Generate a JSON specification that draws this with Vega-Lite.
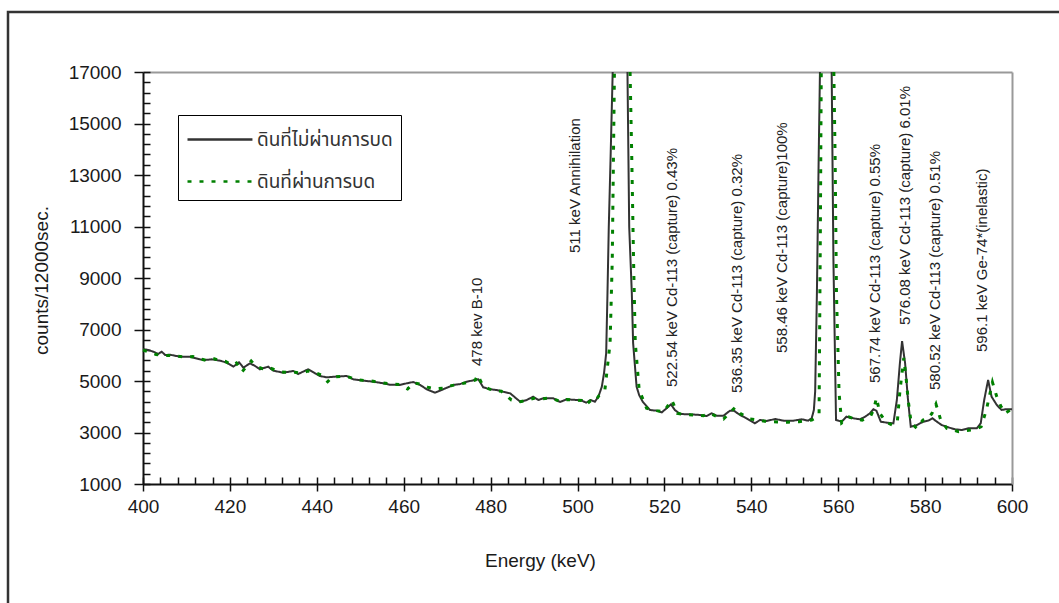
{
  "$schema": "https://vega.github.io/schema/vega-lite/v6.json",
  "width": 1100,
  "height": 650,
  "autosize": {"type": "none"},
  "padding": {"left": 8, "top": 12, "right": 0, "bottom": 0},
  "background": "white",
  "view": {"stroke": "#333333", "strokeWidth": 2.5, "fill": "white"},
  "config": {"font": "Liberation Sans"},
  "datasets": {
    "spectrum": [
      {"series":"ดินที่ไม่ผ่านการบด","segment":1,"energy":400.0,"counts":6243},
      {"series":"ดินที่ไม่ผ่านการบด","segment":1,"energy":401.2,"counts":6204},
      {"series":"ดินที่ไม่ผ่านการบด","segment":1,"energy":402.4,"counts":6138},
      {"series":"ดินที่ไม่ผ่านการบด","segment":1,"energy":403.5,"counts":6049},
      {"series":"ดินที่ไม่ผ่านการบด","segment":1,"energy":404.3,"counts":6138},
      {"series":"ดินที่ไม่ผ่านการบด","segment":1,"energy":405.1,"counts":6010},
      {"series":"ดินที่ไม่ผ่านการบด","segment":1,"energy":406.2,"counts":6021},
      {"series":"ดินที่ไม่ผ่านการบด","segment":1,"energy":408.5,"counts":5944},
      {"series":"ดินที่ไม่ผ่านการบด","segment":1,"energy":410.8,"counts":5944},
      {"series":"ดินที่ไม่ผ่านการบด","segment":1,"energy":413.1,"counts":5842},
      {"series":"ดินที่ไม่ผ่านการบด","segment":1,"energy":414.3,"counts":5815},
      {"series":"ดินที่ไม่ผ่านการบด","segment":1,"energy":415.8,"counts":5842},
      {"series":"ดินที่ไม่ผ่านการบด","segment":1,"energy":417.7,"counts":5790},
      {"series":"ดินที่ไม่ผ่านการบด","segment":1,"energy":419.3,"counts":5712},
      {"series":"ดินที่ไม่ผ่านการบด","segment":1,"energy":420.8,"counts":5557},
      {"series":"ดินที่ไม่ผ่านการบด","segment":1,"energy":422.1,"counts":5727},
      {"series":"ดินที่ไม่ผ่านการบด","segment":1,"energy":423.1,"counts":5518},
      {"series":"ดินที่ไม่ผ่านการบด","segment":1,"energy":424.6,"counts":5686},
      {"series":"ดินที่ไม่ผ่านการบด","segment":1,"energy":425.8,"counts":5583},
      {"series":"ดินที่ไม่ผ่านการบด","segment":1,"energy":426.9,"counts":5454},
      {"series":"ดินที่ไม่ผ่านการบด","segment":1,"energy":428.8,"counts":5557},
      {"series":"ดินที่ไม่ผ่านการบด","segment":1,"energy":430.0,"counts":5400},
      {"series":"ดินที่ไม่ผ่านการบด","segment":1,"energy":432.3,"counts":5322},
      {"series":"ดินที่ไม่ผ่านการบด","segment":1,"energy":434.6,"counts":5388},
      {"series":"ดินที่ไม่ผ่านการบด","segment":1,"energy":435.7,"counts":5272},
      {"series":"ดินที่ไม่ผ่านการบด","segment":1,"energy":438.0,"counts":5454},
      {"series":"ดินที่ไม่ผ่านการบด","segment":1,"energy":439.6,"counts":5299},
      {"series":"ดินที่ไม่ผ่านการบด","segment":1,"energy":440.7,"counts":5194},
      {"series":"ดินที่ไม่ผ่านการบด","segment":1,"energy":442.3,"counts":5143},
      {"series":"ดินที่ไม่ผ่านการบด","segment":1,"energy":444.2,"counts":5168},
      {"series":"ดินที่ไม่ผ่านการบด","segment":1,"energy":446.9,"counts":5194},
      {"series":"ดินที่ไม่ผ่านการบด","segment":1,"energy":448.4,"counts":5066},
      {"series":"ดินที่ไม่ผ่านการบด","segment":1,"energy":450.7,"counts":5012},
      {"series":"ดินที่ไม่ผ่านการบด","segment":1,"energy":453.0,"counts":4973},
      {"series":"ดินที่ไม่ผ่านการบด","segment":1,"energy":455.3,"counts":4910},
      {"series":"ดินที่ไม่ผ่านการบด","segment":1,"energy":456.8,"counts":4857},
      {"series":"ดินที่ไม่ผ่านการบด","segment":1,"energy":459.1,"counts":4845},
      {"series":"ดินที่ไม่ผ่านการบด","segment":1,"energy":460.7,"counts":4910},
      {"series":"ดินที่ไม่ผ่านการบด","segment":1,"energy":462.2,"counts":4961},
      {"series":"ดินที่ไม่ผ่านการบด","segment":1,"energy":463.8,"counts":4845},
      {"series":"ดินที่ไม่ผ่านการบด","segment":1,"energy":465.3,"counts":4678},
      {"series":"ดินที่ไม่ผ่านการบด","segment":1,"energy":467.2,"counts":4546},
      {"series":"ดินที่ไม่ผ่านการบด","segment":1,"energy":469.1,"counts":4678},
      {"series":"ดินที่ไม่ผ่านการบด","segment":1,"energy":471.4,"counts":4845},
      {"series":"ดินที่ไม่ผ่านการบด","segment":1,"energy":473.0,"counts":4883},
      {"series":"ดินที่ไม่ผ่านการบด","segment":1,"energy":474.5,"counts":4973},
      {"series":"ดินที่ไม่ผ่านการบด","segment":1,"energy":476.4,"counts":5039},
      {"series":"ดินที่ไม่ผ่านการบด","segment":1,"energy":477.2,"counts":5066},
      {"series":"ดินที่ไม่ผ่านการบด","segment":1,"energy":478.3,"counts":4755},
      {"series":"ดินที่ไม่ผ่านการบด","segment":1,"energy":479.9,"counts":4678},
      {"series":"ดินที่ไม่ผ่านการบด","segment":1,"energy":481.4,"counts":4650},
      {"series":"ดินที่ไม่ผ่านการบด","segment":1,"energy":482.9,"counts":4580},
      {"series":"ดินที่ไม่ผ่านการบด","segment":1,"energy":484.5,"counts":4522},
      {"series":"ดินที่ไม่ผ่านการบด","segment":1,"energy":486.8,"counts":4196},
      {"series":"ดินที่ไม่ผ่านการบด","segment":1,"energy":488.3,"counts":4262},
      {"series":"ดินที่ไม่ผ่านการบด","segment":1,"energy":489.8,"counts":4390},
      {"series":"ดินที่ไม่ผ่านการบด","segment":1,"energy":491.0,"counts":4262},
      {"series":"ดินที่ไม่ผ่านการบด","segment":1,"energy":492.1,"counts":4328},
      {"series":"ดินที่ไม่ผ่านการบด","segment":1,"energy":494.4,"counts":4328},
      {"series":"ดินที่ไม่ผ่านการบด","segment":1,"energy":496.0,"counts":4184},
      {"series":"ดินที่ไม่ผ่านการบด","segment":1,"energy":497.5,"counts":4289},
      {"series":"ดินที่ไม่ผ่านการบด","segment":1,"energy":499.8,"counts":4262},
      {"series":"ดินที่ไม่ผ่านการบด","segment":1,"energy":501.0,"counts":4236},
      {"series":"ดินที่ไม่ผ่านการบด","segment":1,"energy":502.0,"counts":4158},
      {"series":"ดินที่ไม่ผ่านการบด","segment":1,"energy":503.0,"counts":4262},
      {"series":"ดินที่ไม่ผ่านการบด","segment":1,"energy":504.0,"counts":4196},
      {"series":"ดินที่ไม่ผ่านการบด","segment":1,"energy":504.8,"counts":4390},
      {"series":"ดินที่ไม่ผ่านการบด","segment":1,"energy":505.6,"counts":4779},
      {"series":"ดินที่ไม่ผ่านการบด","segment":1,"energy":506.1,"counts":5299},
      {"series":"ดินที่ไม่ผ่านการบด","segment":1,"energy":506.6,"counts":6076},
      {"series":"ดินที่ไม่ผ่านการบด","segment":1,"energy":506.9,"counts":8417},
      {"series":"ดินที่ไม่ผ่านการบด","segment":1,"energy":507.2,"counts":10992},
      {"series":"ดินที่ไม่ผ่านการบด","segment":1,"energy":507.6,"counts":13582},
      {"series":"ดินที่ไม่ผ่านการบด","segment":1,"energy":508.1,"counts":17000},
      {"series":"ดินที่ไม่ผ่านการบด","segment":2,"energy":511.5,"counts":17000},
      {"series":"ดินที่ไม่ผ่านการบด","segment":2,"energy":511.9,"counts":10992},
      {"series":"ดินที่ไม่ผ่านการบด","segment":2,"energy":512.5,"counts":8417},
      {"series":"ดินที่ไม่ผ่านการบด","segment":2,"energy":512.8,"counts":6476},
      {"series":"ดินที่ไม่ผ่านการบด","segment":2,"energy":513.6,"counts":4779},
      {"series":"ดินที่ไม่ผ่านการบด","segment":2,"energy":514.2,"counts":4450},
      {"series":"ดินที่ไม่ผ่านการบด","segment":2,"energy":515.0,"counts":4200},
      {"series":"ดินที่ไม่ผ่านการบด","segment":2,"energy":516.7,"counts":3874},
      {"series":"ดินที่ไม่ผ่านการบด","segment":2,"energy":518.2,"counts":3847},
      {"series":"ดินที่ไม่ผ่านการบด","segment":2,"energy":519.4,"counts":3783},
      {"series":"ดินที่ไม่ผ่านการบด","segment":2,"energy":520.5,"counts":3939},
      {"series":"ดินที่ไม่ผ่านการบด","segment":2,"energy":521.5,"counts":4094},
      {"series":"ดินที่ไม่ผ่านการบด","segment":2,"energy":522.4,"counts":3874},
      {"series":"ดินที่ไม่ผ่านการบด","segment":2,"energy":523.6,"counts":3718},
      {"series":"ดินที่ไม่ผ่านการบด","segment":2,"energy":525.9,"counts":3706},
      {"series":"ดินที่ไม่ผ่านการบด","segment":2,"energy":528.2,"counts":3680},
      {"series":"ดินที่ไม่ผ่านการบด","segment":2,"energy":529.7,"counts":3641},
      {"series":"ดินที่ไม่ผ่านการบด","segment":2,"energy":530.9,"counts":3745},
      {"series":"ดินที่ไม่ผ่านการบด","segment":2,"energy":532.0,"counts":3654},
      {"series":"ดินที่ไม่ผ่านการบด","segment":2,"energy":533.6,"counts":3654},
      {"series":"ดินที่ไม่ผ่านการบด","segment":2,"energy":535.1,"counts":3847},
      {"series":"ดินที่ไม่ผ่านการบด","segment":2,"energy":536.0,"counts":3847},
      {"series":"ดินที่ไม่ผ่านการบด","segment":2,"energy":537.4,"counts":3680},
      {"series":"ดินที่ไม่ผ่านการบด","segment":2,"energy":538.9,"counts":3551},
      {"series":"ดินที่ไม่ผ่านการบด","segment":2,"energy":540.8,"counts":3357},
      {"series":"ดินที่ไม่ผ่านการบด","segment":2,"energy":542.0,"counts":3485},
      {"series":"ดินที่ไม่ผ่านการบด","segment":2,"energy":543.5,"counts":3447},
      {"series":"ดินที่ไม่ผ่านการบด","segment":2,"energy":545.5,"counts":3524},
      {"series":"ดินที่ไม่ผ่านการบด","segment":2,"energy":547.4,"counts":3460},
      {"series":"ดินที่ไม่ผ่านการบด","segment":2,"energy":549.7,"counts":3460},
      {"series":"ดินที่ไม่ผ่านการบด","segment":2,"energy":551.6,"counts":3512},
      {"series":"ดินที่ไม่ผ่านการบด","segment":2,"energy":553.1,"counts":3460},
      {"series":"ดินที่ไม่ผ่านการบด","segment":2,"energy":553.9,"counts":3551},
      {"series":"ดินที่ไม่ผ่านการบด","segment":2,"energy":554.4,"counts":3874},
      {"series":"ดินที่ไม่ผ่านการบด","segment":2,"energy":554.7,"counts":4600},
      {"series":"ดินที่ไม่ผ่านการบด","segment":2,"energy":555.1,"counts":8417},
      {"series":"ดินที่ไม่ผ่านการบด","segment":2,"energy":555.5,"counts":13582},
      {"series":"ดินที่ไม่ผ่านการบด","segment":2,"energy":555.8,"counts":17000},
      {"series":"ดินที่ไม่ผ่านการบด","segment":3,"energy":558.5,"counts":17000},
      {"series":"ดินที่ไม่ผ่านการบด","segment":3,"energy":558.9,"counts":9700},
      {"series":"ดินที่ไม่ผ่านการบด","segment":3,"energy":559.5,"counts":3485},
      {"series":"ดินที่ไม่ผ่านการบด","segment":3,"energy":560.8,"counts":3420},
      {"series":"ดินที่ไม่ผ่านการบด","segment":3,"energy":561.9,"counts":3614},
      {"series":"ดินที่ไม่ผ่านการบด","segment":3,"energy":563.5,"counts":3551},
      {"series":"ดินที่ไม่ผ่านการบด","segment":3,"energy":565.0,"counts":3512},
      {"series":"ดินที่ไม่ผ่านการบด","segment":3,"energy":566.2,"counts":3614},
      {"series":"ดินที่ไม่ผ่านการบด","segment":3,"energy":567.3,"counts":3745},
      {"series":"ดินที่ไม่ผ่านการบด","segment":3,"energy":568.1,"counts":3901},
      {"series":"ดินที่ไม่ผ่านการบด","segment":3,"energy":568.8,"counts":3847},
      {"series":"ดินที่ไม่ผ่านการบด","segment":3,"energy":569.8,"counts":3420},
      {"series":"ดินที่ไม่ผ่านการบด","segment":3,"energy":571.2,"counts":3381},
      {"series":"ดินที่ไม่ผ่านการบด","segment":3,"energy":572.7,"counts":3357},
      {"series":"ดินที่ไม่ผ่านการบด","segment":3,"energy":573.5,"counts":4262},
      {"series":"ดินที่ไม่ผ่านการบด","segment":3,"energy":574.2,"counts":5686},
      {"series":"ดินที่ไม่ผ่านการบด","segment":3,"energy":574.7,"counts":6550},
      {"series":"ดินที่ไม่ผ่านการบด","segment":3,"energy":575.4,"counts":5686},
      {"series":"ดินที่ไม่ผ่านการบด","segment":3,"energy":576.0,"counts":4390},
      {"series":"ดินที่ไม่ผ่านการบด","segment":3,"energy":576.7,"counts":3226},
      {"series":"ดินที่ไม่ผ่านการบด","segment":3,"energy":578.1,"counts":3291},
      {"series":"ดินที่ไม่ผ่านการบด","segment":3,"energy":579.6,"counts":3420},
      {"series":"ดินที่ไม่ผ่านการบด","segment":3,"energy":580.7,"counts":3460},
      {"series":"ดินที่ไม่ผ่านการบด","segment":3,"energy":581.7,"counts":3551},
      {"series":"ดินที่ไม่ผ่านการบด","segment":3,"energy":582.7,"counts":3420},
      {"series":"ดินที่ไม่ผ่านการบด","segment":3,"energy":583.8,"counts":3291},
      {"series":"ดินที่ไม่ผ่านการบด","segment":3,"energy":585.3,"counts":3202},
      {"series":"ดินที่ไม่ผ่านการบด","segment":3,"energy":586.9,"counts":3124},
      {"series":"ดินที่ไม่ผ่านการบด","segment":3,"energy":588.4,"counts":3097},
      {"series":"ดินที่ไม่ผ่านการบด","segment":3,"energy":589.9,"counts":3163},
      {"series":"ดินที่ไม่ผ่านการบด","segment":3,"energy":591.9,"counts":3163},
      {"series":"ดินที่ไม่ผ่านการบด","segment":3,"energy":592.8,"counts":3357},
      {"series":"ดินที่ไม่ผ่านการบด","segment":3,"energy":593.6,"counts":4262},
      {"series":"ดินที่ไม่ผ่านการบด","segment":3,"energy":594.5,"counts":5039},
      {"series":"ดินที่ไม่ผ่านการบด","segment":3,"energy":595.3,"counts":4390},
      {"series":"ดินที่ไม่ผ่านการบด","segment":3,"energy":596.5,"counts":4068},
      {"series":"ดินที่ไม่ผ่านการบด","segment":3,"energy":597.6,"counts":3874},
      {"series":"ดินที่ไม่ผ่านการบด","segment":3,"energy":598.5,"counts":3901},
      {"series":"ดินที่ไม่ผ่านการบด","segment":3,"energy":600.0,"counts":3901},

      {"series":"ดินที่ผ่านการบด","segment":1,"energy":400.0,"counts":6200},
      {"series":"ดินที่ผ่านการบด","segment":1,"energy":401.5,"counts":6120},
      {"series":"ดินที่ผ่านการบด","segment":1,"energy":403.0,"counts":6030},
      {"series":"ดินที่ผ่านการบด","segment":1,"energy":404.5,"counts":6000},
      {"series":"ดินที่ผ่านการบด","segment":1,"energy":406.0,"counts":5990},
      {"series":"ดินที่ผ่านการบด","segment":1,"energy":408.0,"counts":5960},
      {"series":"ดินที่ผ่านการบด","segment":1,"energy":410.0,"counts":5930},
      {"series":"ดินที่ผ่านการบด","segment":1,"energy":411.5,"counts":5950},
      {"series":"ดินที่ผ่านการบด","segment":1,"energy":413.0,"counts":5870},
      {"series":"ดินที่ผ่านการบด","segment":1,"energy":414.5,"counts":5800},
      {"series":"ดินที่ผ่านการบด","segment":1,"energy":416.0,"counts":5880},
      {"series":"ดินที่ผ่านการบด","segment":1,"energy":417.5,"counts":5810},
      {"series":"ดินที่ผ่านการบด","segment":1,"energy":419.0,"counts":5760},
      {"series":"ดินที่ผ่านการบด","segment":1,"energy":420.5,"counts":5610},
      {"series":"ดินที่ผ่านการบด","segment":1,"energy":421.5,"counts":5700},
      {"series":"ดินที่ผ่านการบด","segment":1,"energy":422.8,"counts":5360},
      {"series":"ดินที่ผ่านการบด","segment":1,"energy":424.9,"counts":5776},
      {"series":"ดินที่ผ่านการบด","segment":1,"energy":426.0,"counts":5580},
      {"series":"ดินที่ผ่านการบด","segment":1,"energy":427.5,"counts":5480},
      {"series":"ดินที่ผ่านการบด","segment":1,"energy":429.0,"counts":5520},
      {"series":"ดินที่ผ่านการบด","segment":1,"energy":430.5,"counts":5420},
      {"series":"ดินที่ผ่านการบด","segment":1,"energy":432.0,"counts":5350},
      {"series":"ดินที่ผ่านการบด","segment":1,"energy":433.5,"counts":5330},
      {"series":"ดินที่ผ่านการบด","segment":1,"energy":435.0,"counts":5340},
      {"series":"ดินที่ผ่านการบด","segment":1,"energy":436.5,"counts":5300},
      {"series":"ดินที่ผ่านการบด","segment":1,"energy":438.0,"counts":5390},
      {"series":"ดินที่ผ่านการบด","segment":1,"energy":439.5,"counts":5330},
      {"series":"ดินที่ผ่านการบด","segment":1,"energy":441.0,"counts":5230},
      {"series":"ดินที่ผ่านการบด","segment":1,"energy":442.5,"counts":4973},
      {"series":"ดินที่ผ่านการบด","segment":1,"energy":443.5,"counts":5150},
      {"series":"ดินที่ผ่านการบด","segment":1,"energy":445.5,"counts":5180},
      {"series":"ดินที่ผ่านการบด","segment":1,"energy":447.5,"counts":5150},
      {"series":"ดินที่ผ่านการบด","segment":1,"energy":449.0,"counts":5060},
      {"series":"ดินที่ผ่านการบด","segment":1,"energy":451.0,"counts":5020},
      {"series":"ดินที่ผ่านการบด","segment":1,"energy":453.0,"counts":4990},
      {"series":"ดินที่ผ่านการบด","segment":1,"energy":455.0,"counts":4930},
      {"series":"ดินที่ผ่านการบด","segment":1,"energy":457.0,"counts":4880},
      {"series":"ดินที่ผ่านการบด","segment":1,"energy":459.0,"counts":4860},
      {"series":"ดินที่ผ่านการบด","segment":1,"energy":460.9,"counts":4690},
      {"series":"ดินที่ผ่านการบด","segment":1,"energy":462.3,"counts":4930},
      {"series":"ดินที่ผ่านการบด","segment":1,"energy":463.8,"counts":4880},
      {"series":"ดินที่ผ่านการบด","segment":1,"energy":465.5,"counts":4760},
      {"series":"ดินที่ผ่านการบด","segment":1,"energy":467.2,"counts":4690},
      {"series":"ดินที่ผ่านการบด","segment":1,"energy":469.0,"counts":4720},
      {"series":"ดินที่ผ่านการบด","segment":1,"energy":471.0,"counts":4820},
      {"series":"ดินที่ผ่านการบด","segment":1,"energy":473.0,"counts":4880},
      {"series":"ดินที่ผ่านการบด","segment":1,"energy":475.0,"counts":4960},
      {"series":"ดินที่ผ่านการบด","segment":1,"energy":476.5,"counts":5040},
      {"series":"ดินที่ผ่านการบด","segment":1,"energy":477.0,"counts":5233},
      {"series":"ดินที่ผ่านการบด","segment":1,"energy":478.0,"counts":4900},
      {"series":"ดินที่ผ่านการบด","segment":1,"energy":479.5,"counts":4700},
      {"series":"ดินที่ผ่านการบด","segment":1,"energy":481.0,"counts":4620},
      {"series":"ดินที่ผ่านการบด","segment":1,"energy":482.5,"counts":4600},
      {"series":"ดินที่ผ่านการบด","segment":1,"energy":484.8,"counts":4262},
      {"series":"ดินที่ผ่านการบด","segment":1,"energy":486.8,"counts":4196},
      {"series":"ดินที่ผ่านการบด","segment":1,"energy":488.5,"counts":4250},
      {"series":"ดินที่ผ่านการบด","segment":1,"energy":490.0,"counts":4330},
      {"series":"ดินที่ผ่านการบด","segment":1,"energy":491.5,"counts":4300},
      {"series":"ดินที่ผ่านการบด","segment":1,"energy":493.0,"counts":4330},
      {"series":"ดินที่ผ่านการบด","segment":1,"energy":494.5,"counts":4310},
      {"series":"ดินที่ผ่านการบด","segment":1,"energy":496.0,"counts":4200},
      {"series":"ดินที่ผ่านการบด","segment":1,"energy":497.5,"counts":4280},
      {"series":"ดินที่ผ่านการบด","segment":1,"energy":499.5,"counts":4260},
      {"series":"ดินที่ผ่านการบด","segment":1,"energy":501.0,"counts":4240},
      {"series":"ดินที่ผ่านการบด","segment":1,"energy":502.0,"counts":4080},
      {"series":"ดินที่ผ่านการบด","segment":1,"energy":503.0,"counts":4230},
      {"series":"ดินที่ผ่านการบด","segment":1,"energy":504.0,"counts":4200},
      {"series":"ดินที่ผ่านการบด","segment":1,"energy":505.0,"counts":4450},
      {"series":"ดินที่ผ่านการบด","segment":1,"energy":506.3,"counts":4650},
      {"series":"ดินที่ผ่านการบด","segment":1,"energy":507.5,"counts":6476},
      {"series":"ดินที่ผ่านการบด","segment":1,"energy":508.0,"counts":9700},
      {"series":"ดินที่ผ่านการบด","segment":1,"energy":508.5,"counts":17000},
      {"series":"ดินที่ผ่านการบด","segment":2,"energy":512.1,"counts":17000},
      {"series":"ดินที่ผ่านการบด","segment":2,"energy":512.5,"counts":13582},
      {"series":"ดินที่ผ่านการบด","segment":2,"energy":512.9,"counts":9700},
      {"series":"ดินที่ผ่านการบด","segment":2,"energy":513.3,"counts":6476},
      {"series":"ดินที่ผ่านการบด","segment":2,"energy":514.2,"counts":4650},
      {"series":"ดินที่ผ่านการบด","segment":2,"energy":515.9,"counts":3939},
      {"series":"ดินที่ผ่านการบด","segment":2,"energy":518.2,"counts":3850},
      {"series":"ดินที่ผ่านการบด","segment":2,"energy":519.8,"counts":3800},
      {"series":"ดินที่ผ่านการบด","segment":2,"energy":521.7,"counts":4262},
      {"series":"ดินที่ผ่านการบด","segment":2,"energy":523.0,"counts":3745},
      {"series":"ดินที่ผ่านการบด","segment":2,"energy":525.0,"counts":3690},
      {"series":"ดินที่ผ่านการบด","segment":2,"energy":527.0,"counts":3680},
      {"series":"ดินที่ผ่านการบด","segment":2,"energy":529.0,"counts":3650},
      {"series":"ดินที่ผ่านการบด","segment":2,"energy":530.5,"counts":3745},
      {"series":"ดินที่ผ่านการบด","segment":2,"energy":532.0,"counts":3620},
      {"series":"ดินที่ผ่านการบด","segment":2,"energy":533.6,"counts":3525},
      {"series":"ดินที่ผ่านการบด","segment":2,"energy":536.3,"counts":3978},
      {"series":"ดินที่ผ่านการบด","segment":2,"energy":537.4,"counts":3745},
      {"series":"ดินที่ผ่านการบด","segment":2,"energy":539.7,"counts":3525},
      {"series":"ดินที่ผ่านการบด","segment":2,"energy":541.6,"counts":3485},
      {"series":"ดินที่ผ่านการบด","segment":2,"energy":543.5,"counts":3420},
      {"series":"ดินที่ผ่านการบด","segment":2,"energy":546.0,"counts":3410},
      {"series":"ดินที่ผ่านการบด","segment":2,"energy":548.5,"counts":3400},
      {"series":"ดินที่ผ่านการบด","segment":2,"energy":551.0,"counts":3420},
      {"series":"ดินที่ผ่านการบด","segment":2,"energy":553.9,"counts":3485},
      {"series":"ดินที่ผ่านการบด","segment":2,"energy":555.0,"counts":3600},
      {"series":"ดินที่ผ่านการบด","segment":2,"energy":555.6,"counts":3745},
      {"series":"ดินที่ผ่านการบด","segment":2,"energy":555.9,"counts":10992},
      {"series":"ดินที่ผ่านการบด","segment":2,"energy":556.1,"counts":17000},
      {"series":"ดินที่ผ่านการบด","segment":3,"energy":559.0,"counts":17000},
      {"series":"ดินที่ผ่านการบด","segment":3,"energy":559.3,"counts":13582},
      {"series":"ดินที่ผ่านการบด","segment":3,"energy":559.6,"counts":8417},
      {"series":"ดินที่ผ่านการบด","segment":3,"energy":560.2,"counts":4534},
      {"series":"ดินที่ผ่านการบด","segment":3,"energy":560.8,"counts":3370},
      {"series":"ดินที่ผ่านการบด","segment":3,"energy":561.5,"counts":3450},
      {"series":"ดินที่ผ่านการบด","segment":3,"energy":562.5,"counts":3600},
      {"series":"ดินที่ผ่านการบด","segment":3,"energy":564.0,"counts":3520},
      {"series":"ดินที่ผ่านการบด","segment":3,"energy":565.5,"counts":3480},
      {"series":"ดินที่ผ่านการบด","segment":3,"energy":566.5,"counts":3560},
      {"series":"ดินที่ผ่านการบด","segment":3,"energy":567.5,"counts":3650},
      {"series":"ดินที่ผ่านการบด","segment":3,"energy":568.2,"counts":3900},
      {"series":"ดินที่ผ่านการบด","segment":3,"energy":568.8,"counts":4350},
      {"series":"ดินที่ผ่านการบด","segment":3,"energy":569.6,"counts":3745},
      {"series":"ดินที่ผ่านการบด","segment":3,"energy":571.0,"counts":3400},
      {"series":"ดินที่ผ่านการบด","segment":3,"energy":572.5,"counts":3290},
      {"series":"ดินที่ผ่านการบด","segment":3,"energy":573.6,"counts":3400},
      {"series":"ดินที่ผ่านการบด","segment":3,"energy":574.2,"counts":4600},
      {"series":"ดินที่ผ่านการบด","segment":3,"energy":575.1,"counts":5900},
      {"series":"ดินที่ผ่านการบด","segment":3,"energy":575.7,"counts":5000},
      {"series":"ดินที่ผ่านการบด","segment":3,"energy":576.1,"counts":4262},
      {"series":"ดินที่ผ่านการบด","segment":3,"energy":576.8,"counts":3357},
      {"series":"ดินที่ผ่านการบด","segment":3,"energy":578.1,"counts":3163},
      {"series":"ดินที่ผ่านการบด","segment":3,"energy":579.5,"counts":3485},
      {"series":"ดินที่ผ่านการบด","segment":3,"energy":580.8,"counts":3550},
      {"series":"ดินที่ผ่านการบด","segment":3,"energy":581.6,"counts":3750},
      {"series":"ดินที่ผ่านการบด","segment":3,"energy":582.5,"counts":4100},
      {"series":"ดินที่ผ่านการบด","segment":3,"energy":583.6,"counts":3485},
      {"series":"ดินที่ผ่านการบด","segment":3,"energy":585.0,"counts":3163},
      {"series":"ดินที่ผ่านการบด","segment":3,"energy":586.5,"counts":3100},
      {"series":"ดินที่ผ่านการบด","segment":3,"energy":587.7,"counts":3033},
      {"series":"ดินที่ผ่านการบด","segment":3,"energy":589.0,"counts":3060},
      {"series":"ดินที่ผ่านการบด","segment":3,"energy":590.6,"counts":3097},
      {"series":"ดินที่ผ่านการบด","segment":3,"energy":592.0,"counts":3150},
      {"series":"ดินที่ผ่านการบด","segment":3,"energy":592.9,"counts":3226},
      {"series":"ดินที่ผ่านการบด","segment":3,"energy":594.1,"counts":3874},
      {"series":"ดินที่ผ่านการบด","segment":3,"energy":595.5,"counts":4950},
      {"series":"ดินที่ผ่านการบด","segment":3,"energy":596.5,"counts":4390},
      {"series":"ดินที่ผ่านการบด","segment":3,"energy":597.5,"counts":4000},
      {"series":"ดินที่ผ่านการบด","segment":3,"energy":598.4,"counts":3745},
      {"series":"ดินที่ผ่านการบด","segment":3,"energy":599.6,"counts":3874},
      {"series":"ดินที่ผ่านการบด","segment":3,"energy":600.0,"counts":3880}
    ],
    "peaks": [
      {"energy": 476.9, "counts": 5583, "label": "478 kev B-10"},
      {"energy": 499.4, "counts": 9971, "label": "511 keV Annihilation"},
      {"energy": 521.7, "counts": 4767, "label": "522.54 keV Cd-113 (capture) 0.43%"},
      {"energy": 536.7, "counts": 4534, "label": "536.35 keV Cd-113 (capture) 0.32%"},
      {"energy": 547.0, "counts": 6087, "label": "558.46 keV Cd-113 (capture)100%"},
      {"energy": 568.5, "counts": 4922, "label": "567.74 keV Cd-113 (capture) 0.55%"},
      {"energy": 575.4, "counts": 7175, "label": "576.08 keV Cd-113 (capture) 6.01%"},
      {"energy": 582.3, "counts": 4650, "label": "580.52 keV Cd-113 (capture) 0.51%"},
      {"energy": 593.1, "counts": 6126, "label": "596.1 keV Ge-74*(inelastic)"}
    ]
  },
  "data": {"name": "spectrum"},
  "resolve": {"axis": {"x": "independent", "y": "independent"}},
  "layer": [
    {
      "transform": [{"filter": "datum.series === 'ดินที่ไม่ผ่านการบด'"}],
      "mark": {"type": "line", "strokeWidth": 2, "strokeJoin": "miter"},
      "encoding": {
        "x": {
          "field": "energy", "type": "quantitative",
          "scale": {"domain": [400, 600], "range": [135, 1004], "nice": false, "zero": false},
          "axis": {
            "orient": "bottom", "offset": -178, "grid": false, "labelFlush": false,
            "values": [400, 420, 440, 460, 480, 500, 520, 540, 560, 580, 600],
            "format": "d",
            "domainColor": "#111111", "domainWidth": 2,
            "tickColor": "#111111", "tickWidth": 1.5, "tickSize": 7,
            "labelFont": "Liberation Sans", "labelFontSize": 19, "labelColor": "#1a1a1a", "labelPadding": 6,
            "title": "Energy (keV)", "titleFont": "Liberation Sans", "titleFontSize": 19, "titleFontWeight": "normal",
            "titleColor": "#1a1a1a", "titleX": 532, "titleY": 76, "titleAlign": "center", "titleBaseline": "middle"
          }
        },
        "y": {
          "field": "counts", "type": "quantitative",
          "scale": {"domain": [1000, 17000], "range": [472, 60], "nice": false, "zero": false},
          "axis": {
            "orient": "left", "offset": -135, "grid": false, "labelFlush": false,
            "values": [1000, 3000, 5000, 7000, 9000, 11000, 13000, 15000, 17000],
            "format": "d",
            "domainColor": "#111111", "domainWidth": 2,
            "tickColor": "#111111", "tickWidth": 1.5, "tickSize": 9,
            "labelFont": "Liberation Sans", "labelFontSize": 19, "labelColor": "#1a1a1a", "labelPadding": 13,
            "title": "counts/12000sec.", "titleFont": "Liberation Sans", "titleFontSize": 19, "titleFontWeight": "normal",
            "titleColor": "#1a1a1a", "titleX": -102, "titleY": 268, "titleAngle": 270, "titleAlign": "center", "titleBaseline": "middle"
          }
        },
        "color": {
          "field": "series", "type": "nominal",
          "scale": {"domain": ["ดินที่ไม่ผ่านการบด", "ดินที่ผ่านการบด"], "range": ["#333333", "#008000"]},
          "legend": {
            "orient": "none", "legendX": 170, "legendY": 103, "title": null,
            "symbolType": "M-1,0H3.33", "symbolSize": 900, "symbolStrokeWidth": 2.5,
            "labelFont": "Noto Sans Thai, Noto Sans, DejaVu Sans, sans-serif", "labelFontSize": 19, "labelColor": "#333333",
            "labelOffset": 38, "rowPadding": 15, "padding": 8,
            "strokeColor": "#000000", "fillColor": "white"
          }
        },
        "strokeDash": {
          "field": "series", "type": "nominal",
          "scale": {"domain": ["ดินที่ไม่ผ่านการบด", "ดินที่ผ่านการบด"], "range": [[1, 0], [4, 8]]},
          "legend": {
            "orient": "none", "legendX": 170, "legendY": 103, "title": null,
            "symbolType": "M-1,0H3.33", "symbolSize": 900, "symbolStrokeWidth": 2.5,
            "labelFont": "Noto Sans Thai, Noto Sans, DejaVu Sans, sans-serif", "labelFontSize": 19, "labelColor": "#333333",
            "labelOffset": 38, "rowPadding": 15, "padding": 8,
            "strokeColor": "#000000", "fillColor": "white"
          }
        },
        "detail": {"field": "segment", "type": "nominal"}
      }
    },
    {
      "transform": [{"filter": "datum.series === 'ดินที่ผ่านการบด'"}],
      "mark": {"type": "line", "strokeWidth": 3},
      "encoding": {
        "x": {
          "field": "energy", "type": "quantitative",
          "axis": {
            "orient": "bottom", "offset": -178, "grid": false, "domain": false, "labels": false, "title": null,
            "values": [400,404,408,412,416,420,424,428,432,436,440,444,448,452,456,460,464,468,472,476,480,484,488,492,496,500,504,508,512,516,520,524,528,532,536,540,544,548,552,556,560,564,568,572,576,580,584,588,592,596,600],
            "tickColor": "#111111", "tickWidth": 1.5, "tickSize": -7
          }
        },
        "y": {
          "field": "counts", "type": "quantitative",
          "axis": {
            "orient": "left", "offset": -135, "grid": false, "domain": false, "labels": false, "title": null,
            "values": [1000,1400,1800,2200,2600,3000,3400,3800,4200,4600,5000,5400,5800,6200,6600,7000,7400,7800,8200,8600,9000,9400,9800,10200,10600,11000,11400,11800,12200,12600,13000,13400,13800,14200,14600,15000,15400,15800,16200,16600,17000],
            "tickColor": "#111111", "tickWidth": 1.5, "tickSize": -7
          }
        },
        "color": {"field": "series", "type": "nominal"},
        "strokeDash": {"field": "series", "type": "nominal"},
        "detail": {"field": "segment", "type": "nominal"}
      }
    },
    {
      "data": {"name": "peaks"},
      "mark": {"type": "text", "angle": 270, "align": "left", "baseline": "middle", "font": "Liberation Sans", "fontSize": 15, "color": "#222222"},
      "encoding": {
        "x": {
          "field": "energy", "type": "quantitative",
          "axis": {"orient": "top", "offset": -60, "grid": false, "ticks": false, "labels": false, "title": null, "domainColor": "#999999", "domainWidth": 2}
        },
        "y": {
          "field": "counts", "type": "quantitative",
          "axis": {"orient": "right", "offset": -96, "grid": false, "ticks": false, "labels": false, "title": null, "domainColor": "#999999", "domainWidth": 2}
        },
        "text": {"field": "label", "type": "nominal"}
      }
    }
  ]
}
